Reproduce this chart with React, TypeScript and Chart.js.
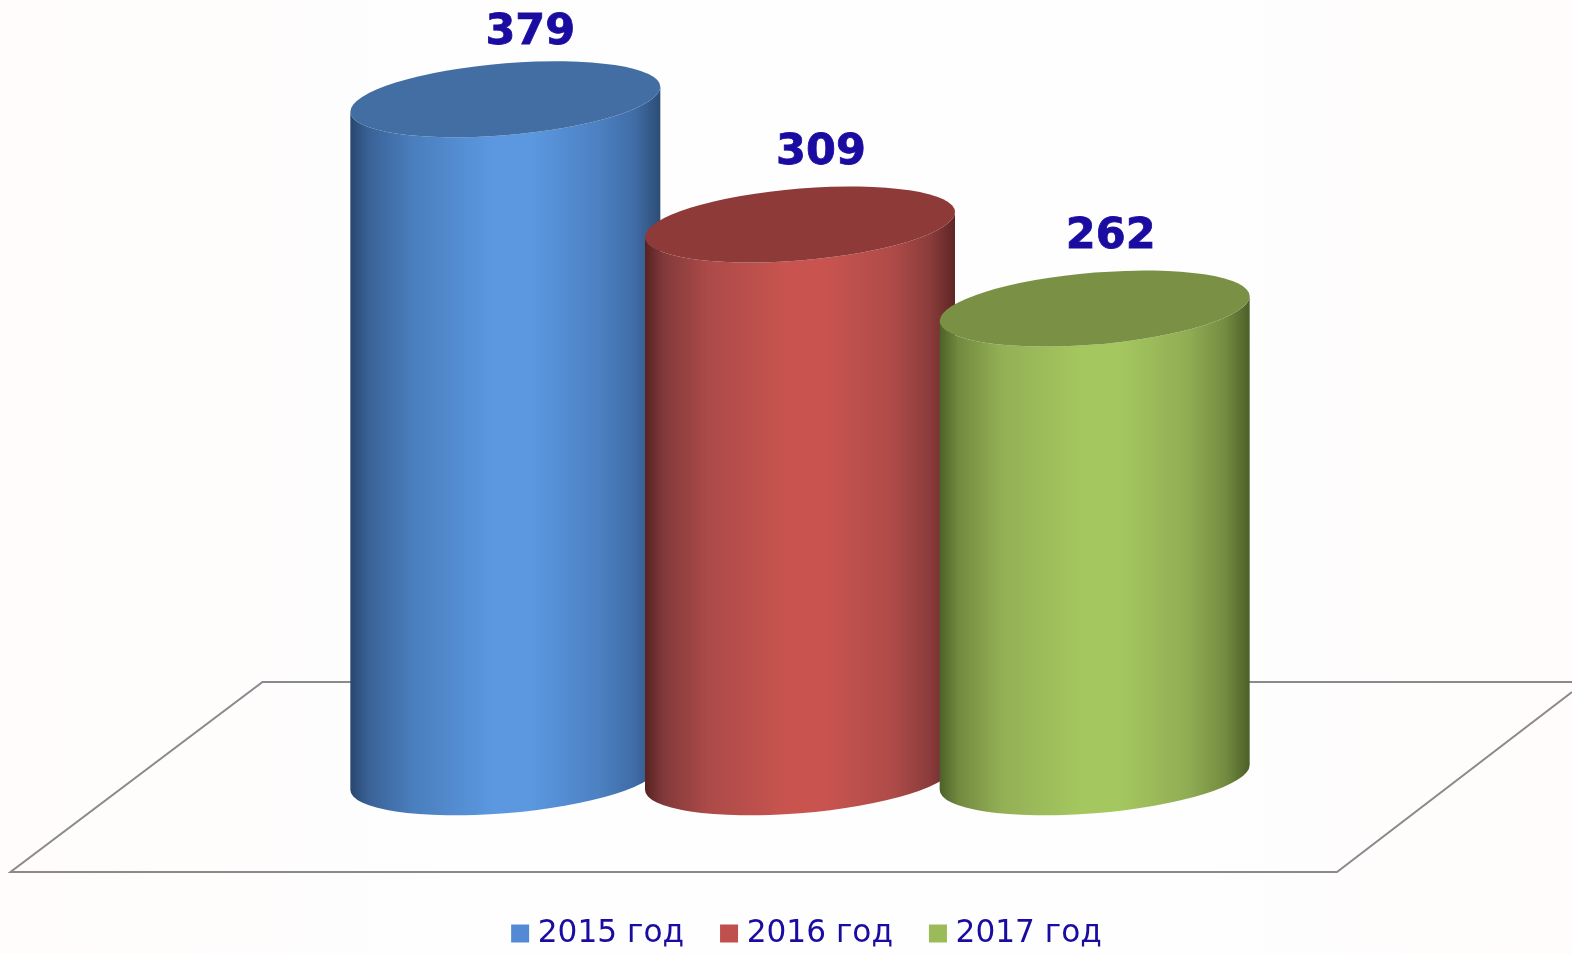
import React, { useEffect, useRef } from "react";
import { Chart, registerables } from "chart.js";

Chart.register(...registerables);

const categories = ["2015 год", "2016 год", "2017 год"];
const seriesLabels = ["2015 год", "2016 год", "2017 год"];
const values2015 = [379, null, null];
const values2016 = [null, 309, null];
const values2017 = [null, null, 262];

const swatchColors = ["#538ad3", "#c0504d", "#9bbb59"];
const topColors = ["#436ea3", "#8e3a39", "#7a9145"];
const sideStops = [
  ["#28476e", "#3a6297", "#4a7ebd", "#5b98e0", "#5b98e0", "#4c81c2", "#3f6ca5", "#2c4d76"],
  ["#572222", "#82393a", "#ab4a48", "#c9544f", "#c9544f", "#ae4b48", "#8a3c3b", "#5e2625"],
  ["#4c6128", "#72893f", "#93b055", "#a5c75f", "#a5c75f", "#91ad54", "#748c41", "#4c5f28"],
];
const stopAt = [0, 0.06, 0.2, 0.46, 0.58, 0.8, 0.92, 1];
const textColor = "#1a0ca0";
const labelShift = [
  [25, -66],
  [21, -72],
  [16, -72],
];

const paper = {
  id: "paper",
  beforeDraw(chart: any) {
    const { ctx, width, height } = chart;
    const g = ctx.createLinearGradient(0, 0, width, 0);
    g.addColorStop(0, "#fffcfb");
    g.addColorStop(0.3, "#fefefe");
    g.addColorStop(0.75, "#fefefe");
    g.addColorStop(1, "#fffcfb");
    ctx.fillStyle = g;
    ctx.fillRect(0, 0, width, height);
  },
};

const legendNudge = {
  id: "legendNudge",
  afterLayout(chart: any) {
    const l = chart.legend;
    l.left += 10;
    l.right += 10;
    l.top += 5;
    l.bottom += 5;
  },
};

const floor = {
  id: "floor",
  beforeDatasetsDraw(chart: any) {
    const { ctx, width } = chart;
    ctx.save();
    ctx.strokeStyle = "#8a8a8a";
    ctx.lineWidth = 2;
    ctx.lineJoin = "miter";
    ctx.beginPath();
    ctx.moveTo(width, 682);
    ctx.lineTo(262.5, 682);
    ctx.lineTo(10.5, 872);
    ctx.lineTo(1337, 872);
    ctx.lineTo(width, 692);
    ctx.stroke();
    ctx.restore();
  },
};

function shearEllipse(ctx: any, cx: number, cy: number, r: number, s: number, t: number, a0: number, a1: number, ccw: boolean) {
  ctx.save();
  ctx.transform(1, -t / r, 0, 1, cx, cy);
  ctx.ellipse(0, 0, r, s, 0, a0, a1, ccw);
  ctx.restore();
}

const cylinders = {
  id: "cylinders",
  beforeDatasetsDraw(chart: any) {
    const { ctx } = chart;
    chart.data.datasets.forEach((ds: any, i: number) => {
      const meta = chart.getDatasetMeta(i);
      const idx = ds.data.findIndex((v: any) => v !== null);
      const el = meta.data[idx];
      const cx = el.x;
      const top = el.y;
      const base = el.base;
      const r = el.width / 2;
      const s = r * 0.232;
      const t = r * 0.08;
      ctx.save();
      const g = ctx.createLinearGradient(cx - r, 0, cx + r, 0);
      sideStops[i].forEach((c, k) => g.addColorStop(stopAt[k], c));
      ctx.fillStyle = g;
      ctx.beginPath();
      shearEllipse(ctx, cx, base, r, s, t, Math.PI, 0, true);
      shearEllipse(ctx, cx, top, r, s, t, 0, Math.PI, false);
      ctx.closePath();
      ctx.fill();
      ctx.fillStyle = topColors[i];
      ctx.beginPath();
      shearEllipse(ctx, cx, top, r, s, t, 0, Math.PI * 2, false);
      ctx.closePath();
      ctx.fill();
      ctx.fillStyle = textColor;
      ctx.strokeStyle = textColor;
      ctx.lineWidth = 0.8;
      ctx.font = "bold 43px 'DejaVu Sans'";
      ctx.textAlign = "center";
      ctx.textBaseline = "middle";
      const label = String(ds.data[idx]);
      ctx.fillText(label, cx + labelShift[i][0], top + labelShift[i][1]);
      ctx.strokeText(label, cx + labelShift[i][0], top + labelShift[i][1]);
      ctx.restore();
    });
    return false;
  },
};

export default function App() {
  const ref = useRef<HTMLCanvasElement>(null);
  useEffect(() => {
    document.body.style.margin = "0";
    const series = [values2015, values2016, values2017];
    const chart = new Chart(ref.current as HTMLCanvasElement, {
      type: "bar",
      data: {
        labels: categories,
        datasets: series.map((data, i) => ({
          label: seriesLabels[i],
          data,
          backgroundColor: swatchColors[i],
          borderColor: swatchColors[i],
          barThickness: 310,
          grouped: false,
        })),
      },
      options: {
        responsive: false,
        animation: false,
        layout: { padding: { left: 358, right: 330, top: 8, bottom: 0 } },
        scales: {
          x: { display: false, offset: true },
          y: { display: false, min: -51.7, max: 430 },
        },
        plugins: {
          tooltip: { enabled: false },
          legend: {
            display: true,
            position: "bottom",
            labels: {
              color: textColor,
              font: { family: "'DejaVu Sans'", size: 31.2 },
              boxWidth: 4,
              boxHeight: 4,
              padding: 43,
              generateLabels: (c: any) =>
                c.data.datasets.map((d: any, i: number) => ({
                  text: d.label,
                  fillStyle: swatchColors[i],
                  strokeStyle: swatchColors[i],
                  lineWidth: 14,
                  fontColor: textColor,
                  datasetIndex: i,
                })),
            },
          },
        },
      },
      plugins: [paper, legendNudge, floor, cylinders],
    } as any);
    return () => chart.destroy();
  }, []);
  return <canvas ref={ref} width={1572} height={954} style={{ display: "block", position: "fixed", left: 0, top: 0 }} />;
}
